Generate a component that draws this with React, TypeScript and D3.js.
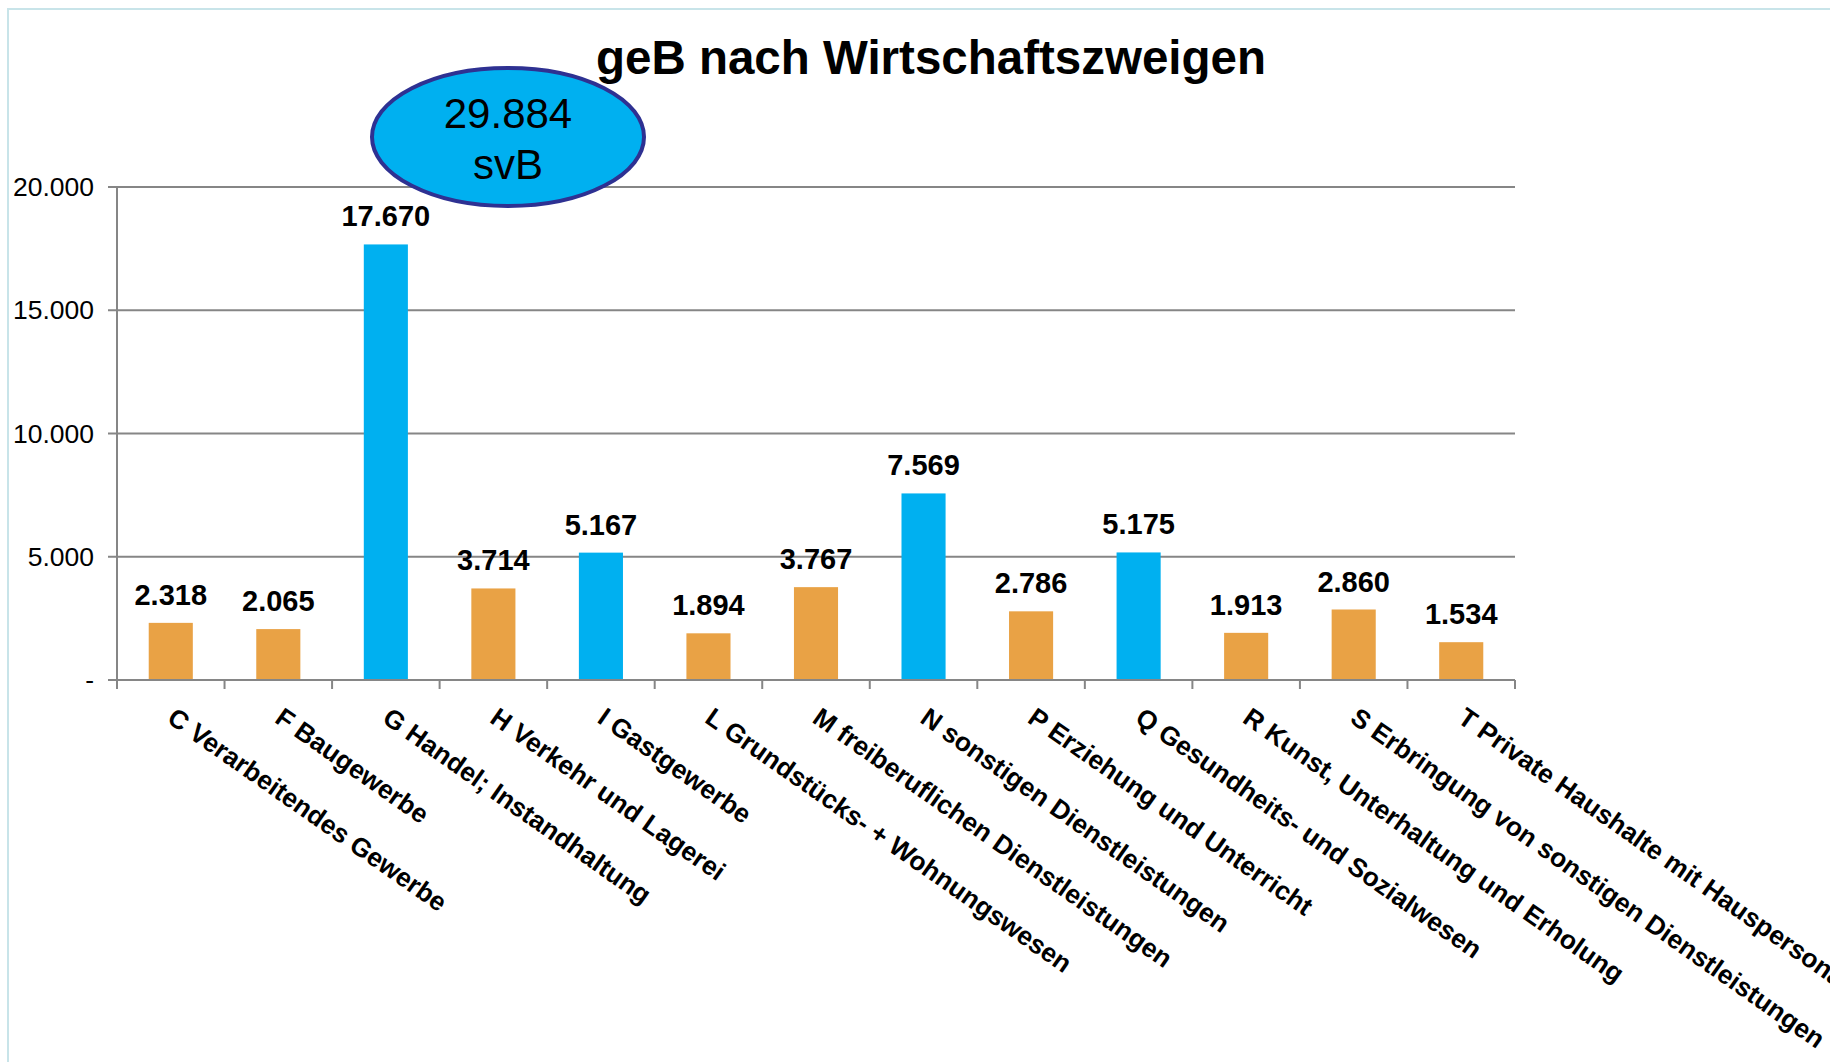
import React from "react";
import * as d3 from "d3";

const categories = [
  "C Verarbeitendes Gewerbe",
  "F Baugewerbe",
  "G Handel; Instandhaltung",
  "H Verkehr und Lagerei",
  "I Gastgewerbe",
  "L Grundstücks- + Wohnungswesen",
  "M freiberuflichen Dienstleistungen",
  "N sonstigen Dienstleistungen",
  "P Erziehung und Unterricht",
  "Q Gesundheits- und Sozialwesen",
  "R Kunst, Unterhaltung und Erholung",
  "S Erbringung von sonstigen Dienstleistungen",
  "T Private Haushalte mit Hauspersonal",
];
const values = [2318, 2065, 17670, 3714, 5167, 1894, 3767, 7569, 2786, 5175, 1913, 2860, 1534];
const highlighted = [false, false, true, false, true, false, false, true, false, true, false, false, false];
const yTicks = [0, 5000, 10000, 15000, 20000];
const title = "geB nach Wirtschaftszweigen";
const bubbleLines = ["29.884", "svB"];

const W = 1830;
const H = 1062;
const FONT = "'Liberation Sans', Arial, sans-serif";
const fmt = (v: number) => (v === 0 ? "-" : d3.format(",")(v).replace(/,/g, "."));

export default function App() {
  const left = 117;
  const right = 1515;
  const top = 187;
  const bottom = 680;
  const x = d3.scaleBand<string>().domain(categories).range([left, right]).paddingInner(0.59).paddingOuter(0.295);
  const y = d3.scaleLinear().domain([0, 20000]).range([bottom, top]);
  const step = (right - left) / categories.length;
  const grid = "#868686";
  const angle = 35;
  const rad = (angle * Math.PI) / 180;

  return (
    <svg width={W} height={H} style={{ position: "absolute", left: 0, top: 0, background: "#fff" }}>
      <rect x={8} y={9} width={W} height={H} fill="none" stroke="#c8e4e9" strokeWidth={2} />
      <text x={931} y={74} textAnchor="middle" fontFamily={FONT} fontWeight="bold" fontSize={47.5} fill="#000">
        {title}
      </text>
      {yTicks.map((t) => (
        <g key={t}>
          <line x1={left - 9} x2={right} y1={y(t)} y2={y(t)} stroke={grid} strokeWidth={2} />
          <text x={94} y={y(t) + 9} textAnchor="end" fontFamily={FONT} fontSize={26.5} fill="#000">
            {fmt(t)}
          </text>
        </g>
      ))}
      <line x1={left} x2={left} y1={top} y2={bottom} stroke={grid} strokeWidth={2} />
      {d3.range(categories.length + 1).map((i) => (
        <line key={i} x1={left + i * step} x2={left + i * step} y1={bottom} y2={bottom + 9} stroke={grid} strokeWidth={2} />
      ))}
      {categories.map((c, i) => {
        const bx = x(c)!;
        const cx = bx + x.bandwidth() / 2;
        const v = values[i];
        return (
          <g key={c}>
            <rect x={bx} y={y(v)} width={x.bandwidth()} height={bottom - y(v)} fill={highlighted[i] ? "#00B0F0" : "#E9A245"} />
            <text x={cx} y={y(v) - 18} textAnchor="middle" fontFamily={FONT} fontWeight="bold" fontSize={29} fill="#000">
              {fmt(v)}
            </text>
            <text
              x={0}
              y={0}
              transform={`translate(${cx + 6 - 19 * Math.sin(rad)},${706 + 19 * Math.cos(rad)}) rotate(${angle})`}
              fontFamily={FONT}
              fontWeight="bold"
              fontSize={26.3}
              fill="#000"
            >
              {c}
            </text>
          </g>
        );
      })}
      <line x1={left} x2={right} y1={bottom} y2={bottom} stroke={grid} strokeWidth={2} />
      <ellipse cx={508} cy={137} rx={136} ry={69} fill="#00B0F0" stroke="#2E3192" strokeWidth={4} />
      {bubbleLines.map((l, i) => (
        <text key={l} x={508} y={128 + i * 51} textAnchor="middle" fontFamily={FONT} fontSize={42} fill="#000">
          {l}
        </text>
      ))}
    </svg>
  );
}
